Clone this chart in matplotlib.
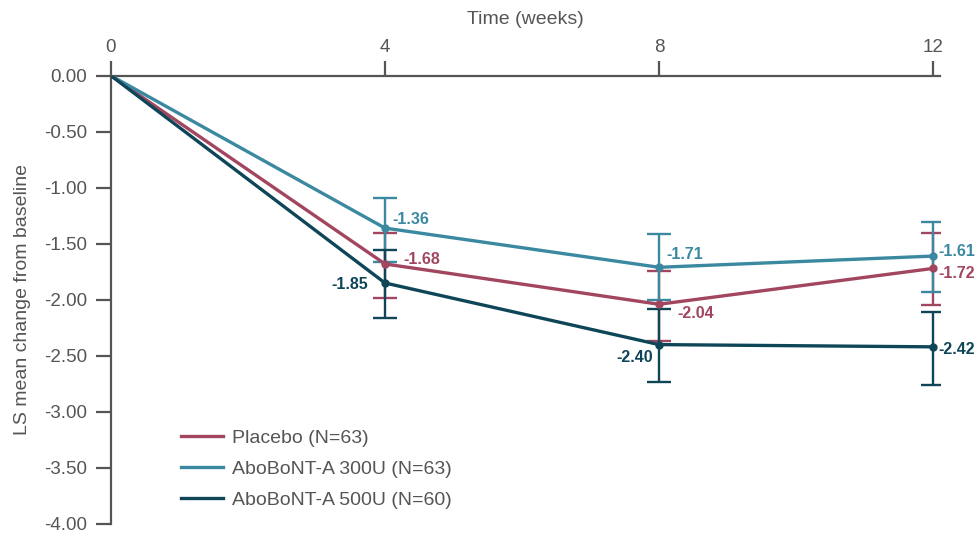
import matplotlib.pyplot as plt

weeks = [0, 4, 8, 12]

placebo = [0.0, -1.68, -2.04, -1.72]
placebo_lo = [0.0, -1.98, -2.37, -2.05]
placebo_hi = [0.0, -1.40, -1.74, -1.40]

dose300 = [0.0, -1.36, -1.71, -1.61]
dose300_lo = [0.0, -1.66, -2.00, -1.93]
dose300_hi = [0.0, -1.09, -1.41, -1.31]

dose500 = [0.0, -1.85, -2.40, -2.42]
dose500_lo = [0.0, -2.16, -2.73, -2.76]
dose500_hi = [0.0, -1.56, -2.08, -2.11]

names = ["Placebo (N=63)", "AboBoNT-A 300U (N=63)", "AboBoNT-A 500U (N=60)"]
colors = ["#A2465F", "#3A89A0", "#0E4658"]

# label offsets in points for weeks 4, 8, 12
offsets = [
    [(13, 3.5, "left"), (13, -6.5, "left"), (4, -3.5, "left")],
    [(5, 6, "left"), (5, 9, "left"), (4, 3.5, "left")],
    [(-12, -1, "right"), (-4, -9, "right"), (4, -2, "left")],
]

grey = "#555555"
plt.rcParams["font.family"] = ["Liberation Sans", "DejaVu Sans"]

fig = plt.figure(figsize=(9.77, 5.34), dpi=100)
ax = fig.add_axes([0.1136, 0.019, 0.962 - 0.1136, 0.8582 - 0.019])

series = [(placebo, placebo_lo, placebo_hi), (dose300, dose300_lo, dose300_hi),
          (dose500, dose500_lo, dose500_hi)]

for k, (vals, lo, hi) in enumerate(series):
    c = colors[k]
    yerr = [[v - l for v, l in zip(vals, lo)], [h - v for v, h in zip(vals, hi)]]
    ax.errorbar(weeks[1:], vals[1:], yerr=[yerr[0][1:], yerr[1][1:]], fmt="none",
                ecolor=c, elinewidth=1.7, capsize=8.5, capthick=1.7, zorder=2)
    ax.plot(weeks, vals, color=c, lw=2.4, label=names[k], zorder=3)
    ax.plot(weeks[1:], vals[1:], "o", color=c, ms=5, zorder=4)
    for i in range(1, 4):
        dx, dy, ha = offsets[k][i - 1]
        ax.annotate(f"{vals[i]:.2f}", (weeks[i], vals[i]), xytext=(dx, dy),
                    textcoords="offset points", ha=ha, va="center",
                    color=c, fontsize=11.5, fontweight="bold")

ax.set_xlim(0, 12.1)
ax.set_ylim(-4, 0)
ax.xaxis.tick_top()
ax.xaxis.set_label_position("top")
ax.set_xticks(weeks)
yt = [0, -0.5, -1, -1.5, -2, -2.5, -3, -3.5, -4]
ax.set_yticks(yt)
ax.set_yticklabels([f"{v:.2f}" for v in yt])
ax.spines["bottom"].set_visible(False)
ax.spines["right"].set_visible(False)
for s in ["top", "left"]:
    ax.spines[s].set_color(grey)
    ax.spines[s].set_linewidth(1.6)
ax.tick_params(colors=grey, labelcolor=grey, labelsize=13.5, width=1.6, length=11)
ax.tick_params(axis="y", pad=6)
ax.tick_params(axis="x", pad=3)
ax.set_xlabel("Time (weeks)", color=grey, fontsize=14)
ax.set_ylabel("LS mean change from baseline", color=grey, fontsize=14)
ax.xaxis.set_label_coords(0.5, 1.115)
ax.yaxis.set_label_coords(-0.097, 0.5)

ax.legend(loc="lower left", bbox_to_anchor=(0.063, -0.005), frameon=False,
          fontsize=14, labelcolor=grey, handlelength=2.2, labelspacing=0.68,
          handletextpad=0.45)

fig.savefig("out.png", dpi=100)
